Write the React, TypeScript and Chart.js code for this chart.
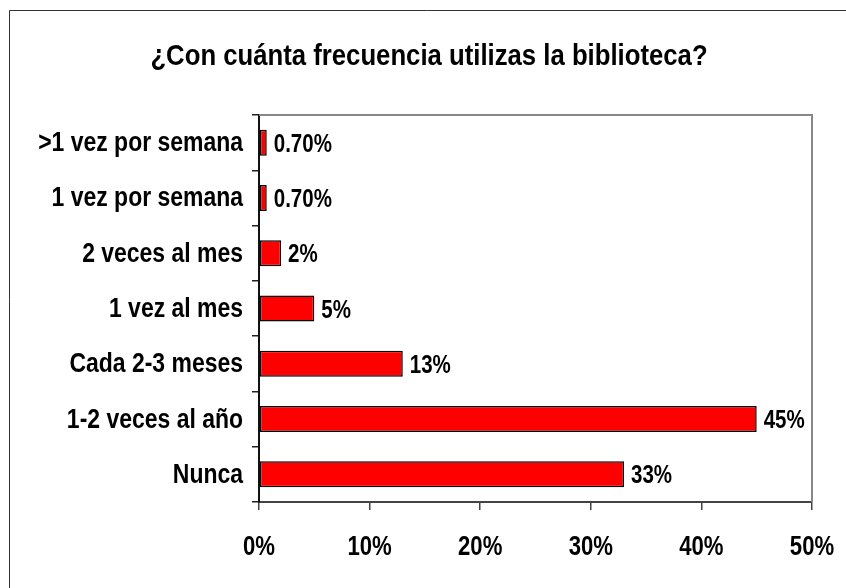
import React, { useEffect, useRef } from "react";
import { Chart, registerables } from "chart.js";

Chart.register(...registerables);

const TITLE = "¿Con cuánta frecuencia utilizas la biblioteca?";
const categories = [
  ">1 vez por semana",
  "1 vez por semana",
  "2 veces al mes",
  "1 vez al mes",
  "Cada 2-3 meses",
  "1-2 veces al año",
  "Nunca",
];
const values = [0.7, 0.7, 2, 5, 13, 45, 33];
const valueLabels = ["0.70%", "0.70%", "2%", "5%", "13%", "45%", "33%"];
const xTicks = [0, 10, 20, 30, 40, 50];

const FONT = "'Liberation Sans', Arial, sans-serif";

function narrowText(ctx: any, text: string, x: number, y: number, align: string, size: number, sx: number) {
  ctx.save();
  ctx.translate(x, y);
  ctx.scale(sx, 1);
  ctx.font = `bold ${size}px ${FONT}`;
  ctx.textAlign = align;
  ctx.textBaseline = "alphabetic";
  ctx.fillStyle = "#000";
  ctx.fillText(text, 0, 0);
  ctx.restore();
}

const framePlugin = {
  id: "frame",
  afterDraw(chart: any) {
    const ctx = chart.ctx;
    const a = chart.chartArea;
    ctx.save();
    ctx.strokeStyle = "#333";
    ctx.lineWidth = 1;
    ctx.beginPath();
    ctx.moveTo(9.5, 588);
    ctx.lineTo(9.5, 10.5);
    ctx.lineTo(846, 10.5);
    ctx.stroke();
    ctx.strokeStyle = "#888";
    ctx.lineWidth = 2;
    ctx.beginPath();
    ctx.moveTo(a.left, a.top);
    ctx.lineTo(a.right, a.top);
    ctx.lineTo(a.right, a.bottom);
    ctx.stroke();
    ctx.restore();

    // title
    narrowText(ctx, TITLE, 429, 65, "center", 30, 0.857);

    // category labels
    const ys = chart.scales.y;
    categories.forEach((c, i) => {
      narrowText(ctx, c, a.left - 16, ys.getPixelForValue(i) + 8.5, "right", 28, 0.82);
    });

    // x tick labels
    const xs = chart.scales.x;
    xTicks.forEach((v) => {
      narrowText(ctx, `${v}%`, xs.getPixelForValue(v), 554.5, "center", 27, 0.82);
    });

    // data labels
    const meta = chart.getDatasetMeta(0);
    meta.data.forEach((bar: any, i: number) => {
      narrowText(ctx, valueLabels[i], bar.x + 7, bar.y + 9, "left", 25, 0.82);
    });
  },
};

export default function App() {
  const ref = useRef<HTMLCanvasElement>(null);
  useEffect(() => {
    if (!ref.current) return;
    const chart = new Chart(ref.current, {
      type: "bar",
      data: {
        labels: categories,
        datasets: [
          {
            data: values,
            backgroundColor: "#FF0000",
            borderColor: "#000",
            borderWidth: 1.5,
            borderSkipped: false,
            barPercentage: 0.47,
            categoryPercentage: 1,
          },
        ],
      },
      options: {
        indexAxis: "y",
        responsive: false,
        animation: false,
        layout: { padding: { top: 115, right: 34, left: 0, bottom: 0 } },
        plugins: { legend: { display: false }, tooltip: { enabled: false }, title: { display: false } },
        scales: {
          x: {
            type: "linear",
            min: 0,
            max: 50,
            afterBuildTicks(scale: any) {
              scale.ticks = xTicks.map((v) => ({ value: v }));
            },
            afterFit(scale: any) {
              scale.height = 86;
              scale.paddingLeft = 0;
              scale.paddingRight = 0;
            },
            ticks: { display: false },
            grid: { drawOnChartArea: false, drawTicks: true, tickLength: 8, color: "#444", lineWidth: 1.5 },
            border: { display: true, color: "#444", width: 2 },
          },
          y: {
            afterFit(scale: any) {
              scale.width = 259;
              scale.paddingTop = 0;
              scale.paddingBottom = 0;
            },
            ticks: { display: false },
            grid: { drawOnChartArea: false, drawTicks: true, tickLength: 7, offset: true, color: "#222", lineWidth: 1.5 },
            border: { display: true, color: "#111", width: 2 },
          },
        },
      },
      plugins: [framePlugin],
    });
    return () => chart.destroy();
  }, []);
  return (
    <div style={{ position: "fixed", left: 0, top: 0, width: 846, height: 588, background: "#fff" }}>
      <canvas ref={ref} width={846} height={588} style={{ width: 846, height: 588, display: "block" }} />
    </div>
  );
}
